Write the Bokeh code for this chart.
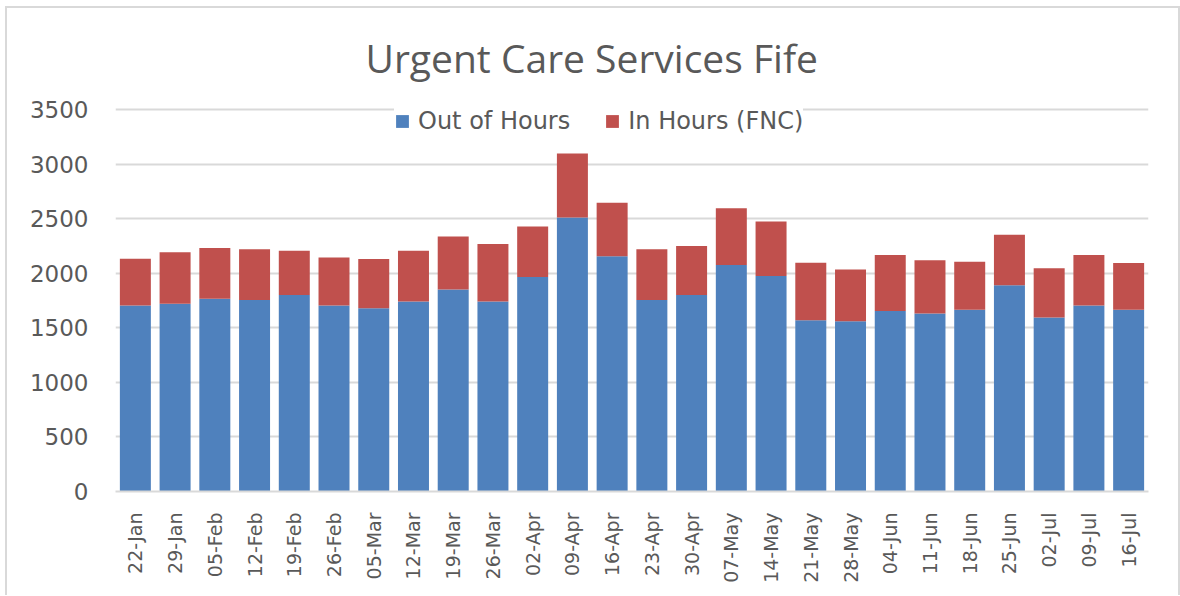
import math
from bokeh.plotting import figure
from bokeh.models import FactorRange, Range1d, FixedTicker, Legend, LegendItem
from bokeh.embed import file_html
from bokeh.resources import INLINE

weeks = ["22-Jan", "29-Jan", "05-Feb", "12-Feb", "19-Feb", "26-Feb", "05-Mar",
         "12-Mar", "19-Mar", "26-Mar", "02-Apr", "09-Apr", "16-Apr", "23-Apr",
         "30-Apr", "07-May", "14-May", "21-May", "28-May", "04-Jun", "11-Jun",
         "18-Jun", "25-Jun", "02-Jul", "09-Jul", "16-Jul"]
out_of_hours = [1705, 1720, 1765, 1755, 1800, 1705, 1680, 1740, 1850, 1740,
                1965, 2510, 2155, 1755, 1800, 2075, 1975, 1570, 1560, 1655,
                1630, 1665, 1890, 1595, 1705, 1665]
in_hours = [428, 473, 466, 465, 407, 440, 450, 465, 487, 527,
            463, 587, 491, 465, 450, 521, 500, 525, 475, 513,
            488, 440, 463, 451, 463, 428]
y_ticks = [0, 500, 1000, 1500, 2000, 2500, 3000, 3500]
series = ["Out of Hours", "In Hours (FNC)"]
colors = ["#4f81bd", "#c0504d"]

text_color = "#595959"
grid_color = "#d9d9d9"

p = figure(x_range=FactorRange(*weeks, range_padding=0),
           y_range=Range1d(0, 3546),
           width=1171, height=587,
           output_backend="svg", toolbar_location=None,
           min_border_left=108, min_border_right=34,
           min_border_top=96, min_border_bottom=106)

data = {"weeks": weeks, "Out of Hours": out_of_hours, "In Hours (FNC)": in_hours}
renderers = p.vbar_stack(series, x="weeks", width=0.78, color=colors,
                         line_color=None, source=data)

p.title.text = "Urgent Care Services Fife"
p.title.align = "left"
p.title.vertical_align = "top"
p.title.text_baseline = "alphabetic"
p.title.text_font = "Open Sans"
p.title.text_font_size = "39px"
p.title.text_font_style = "normal"
p.title.text_color = text_color
p.title.standoff = 37
p.title.offset = 250

p.outline_line_color = None
p.xgrid.grid_line_color = None
p.ygrid.grid_line_color = grid_color
p.ygrid.grid_line_width = 2

p.yaxis.ticker = FixedTicker(ticks=y_ticks)
p.yaxis.axis_line_color = None
p.yaxis.major_tick_line_color = None
p.yaxis.minor_tick_line_color = None
p.yaxis.major_label_text_font = "DejaVu Sans"
p.yaxis.major_label_text_font_size = "23px"
p.yaxis.major_label_text_color = text_color
p.yaxis.major_label_standoff = 21

p.xaxis.axis_line_color = grid_color
p.xaxis.axis_line_width = 2
p.xaxis.major_tick_line_color = None
p.xaxis.minor_tick_line_color = None
p.xaxis.major_label_orientation = math.pi / 2
p.xaxis.major_label_text_font = "DejaVu Sans"
p.xaxis.major_label_text_font_size = "19px"
p.xaxis.major_label_text_color = text_color
p.xaxis.major_label_standoff = 15

legend = Legend(items=[LegendItem(label=s, renderers=[r]) for s, r in zip(series, renderers)],
                orientation="horizontal", location=(279, 356),
                background_fill_color="white", background_fill_alpha=1.0,
                border_line_color=None, padding=30, margin=0,
                spacing=34, label_standoff=8,
                glyph_width=16, glyph_height=16,
                label_text_font="DejaVu Sans", label_text_font_size="24px",
                label_text_color=text_color)
p.add_layout(legend, "center")

p.styles = {"border": "2px solid #d9d9d9", "border-bottom": "none",
            "box-sizing": "content-box", "margin-left": "5px", "margin-top": "6px"}

open("out.html", "w").write(file_html(p, INLINE))
